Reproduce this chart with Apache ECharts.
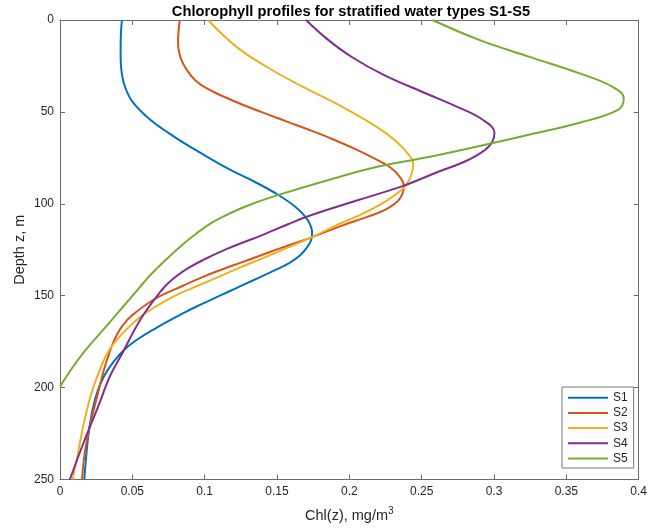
<!DOCTYPE html>
<html>
<head>
<meta charset="UTF-8">
<title>Chlorophyll profiles</title>
<style>
    html, body { margin: 0; padding: 0; background: #fff; }
    #container { width: 650px; height: 528px; }
</style>
</head>
<body>
<div id="container"></div>
<script src="https://cdn.jsdelivr.net/npm/echarts@6/dist/echarts.min.js"></script>
<script>
    // water types and their colours
    var names = ['S1', 'S2', 'S3', 'S4', 'S5'];
    var colors = ['#0072BD', '#D95319', '#EDB120', '#7E2F8E', '#77AC30'];

    // axis ranges / tick steps
    var chlRange = [0, 0.4], chlStep = 0.05;
    var depthRange = [0, 250], depthStep = 50;

    // [Chl mg/m3, depth m]
    var s1 = [[0.0428,0],[0.0420,10],[0.0419,20],[0.0427,29],[0.0452,37],[0.0506,45],[0.062,54],[0.078,63],
        [0.0965,72],[0.1165,81],[0.1345,88],[0.1505,95],[0.1632,102],[0.1713,109],[0.1743,116],[0.1735,120],
        [0.1705,124],[0.166,128],[0.159,132],[0.149,136],[0.138,140],[0.127,144],[0.116,148],[0.105,152],
        [0.094,156],[0.084,160],[0.0745,164],[0.0655,168],[0.055,173],[0.045,179],[0.037,186],[0.031,193],
        [0.0264,201],[0.0225,212],[0.0196,226],[0.0178,240],[0.0168,250]];
    var s2 = [[0.0828,0],[0.0816,12],[0.0839,21.7],[0.091,30.7],[0.097,35],[0.1085,40],[0.123,45],[0.139,50],
        [0.156,55],[0.173,60],[0.189,65],[0.2035,70],[0.2165,75],[0.228,80],[0.2345,85],[0.2377,90.4],
        [0.2345,97.6],[0.2253,103],[0.2138,106.7],[0.1945,112],[0.1735,118.4],[0.153,124],[0.139,128],
        [0.125,132],[0.111,136],[0.098,140],[0.085,144.6],[0.0655,151.8],[0.0495,160.9],[0.0435,166],
        [0.0395,171],[0.036,177],[0.0335,182.6],[0.0299,191.6],[0.0253,206],[0.0207,220.6],[0.0172,235],
        [0.0152,250]];
    var s3 = [[0.1023,0],[0.1218,14.5],[0.1425,25.3],[0.167,36],[0.1945,47],[0.2187,58],[0.2323,66],
        [0.2418,74],[0.2442,78.5],[0.2425,85],[0.2385,90.5],[0.2305,95.8],[0.220,101],[0.2075,106],
        [0.193,111],[0.1735,118.4],[0.157,124],[0.139,130],[0.122,135.5],[0.106,141],[0.091,146],[0.077,151],
        [0.066,156],[0.0565,161],[0.049,166],[0.0415,172],[0.0345,179],[0.0295,186.5],[0.022,202.4],
        [0.016,221],[0.0126,235],[0.0088,250]];
    var s4 = [[0.1701,0],[0.1841,10],[0.2014,20],[0.2241,30],[0.2531,40],[0.2738,47],[0.2917,54],
        [0.3003,61.4],[0.2966,68.7],[0.2828,75.9],[0.2598,83.1],[0.2368,90.4],[0.215,95.8],[0.193,101.2],
        [0.170,107.2],[0.158,111],[0.141,116.6],[0.115,124.7],[0.1005,130],[0.0885,135],[0.0795,140],
        [0.0725,145],[0.0655,151.8],[0.058,160],[0.0505,170],[0.044,180],[0.035,193],[0.0258,211.5],
        [0.0165,229.6],[0.0068,250]];
    var s5 = [[0.2575,0],[0.2897,10.8],[0.324,19.9],[0.3586,28.9],[0.3816,36.2],[0.3897,42.5],[0.386,48.8],
        [0.3586,56],[0.324,62.4],[0.293,68],[0.252,75],[0.2207,79.6],[0.188,86.5],[0.1517,95],[0.133,100],
        [0.118,105],[0.1055,110],[0.0945,116],[0.085,122],[0.0765,128],[0.0685,134],[0.061,140],[0.0545,146],
        [0.048,152],[0.0392,160],[0.0283,170],[0.0172,180],[0.0078,190],[0,199.5]];
    var profiles = [s1, s2, s3, s4, s5];

    var axisColor = '#6b6b6b';
    var font = 'Liberation Sans, Arial, Helvetica, sans-serif';

    function valueAxis(pos, range, step, showLabel) {
        return {
            type: 'value',
            position: pos,
            min: range[0],
            max: range[1],
            interval: step,
            axisLine: { show: true, onZero: false, lineStyle: { color: axisColor, width: 1 } },
            axisTick: { show: true, inside: true, length: 5, lineStyle: { color: axisColor } },
            axisLabel: { show: showLabel, color: '#262626', fontSize: 12, fontFamily: font, margin: 6 },
            splitLine: { show: false }
        };
    }

    var xBottom = valueAxis('bottom', chlRange, chlStep, true);
    xBottom.name = 'Chl(z), mg/m{sup|3}';
    xBottom.nameLocation = 'middle';
    xBottom.nameGap = 27;
    xBottom.nameTextStyle = {
        color: '#262626', fontSize: 14.5, fontFamily: font,
        rich: { sup: { fontSize: 10, verticalAlign: 'top', padding: [0, 0, 8, 0], color: '#262626', fontFamily: font } }
    };
    var xTop = valueAxis('top', chlRange, chlStep, false);

    var yLeft = valueAxis('left', depthRange, depthStep, true);
    yLeft.inverse = true;
    yLeft.name = 'Depth z, m';
    yLeft.nameLocation = 'middle';
    yLeft.nameGap = 33;
    yLeft.nameMoveOverlap = false;
    yLeft.nameTextStyle = { color: '#262626', fontSize: 14.5, fontFamily: font };
    var yRight = valueAxis('right', depthRange, depthStep, false);
    yRight.inverse = true;

    var series = names.map(function (n, i) {
        return {
            name: n,
            type: 'line',
            data: profiles[i],
            smooth: 0.4,
            symbol: 'none',
            lineStyle: { color: colors[i], width: 2 },
            itemStyle: { color: colors[i] },
            xAxisIndex: 0,
            yAxisIndex: 0
        };
    });

    var myChart = echarts.init(document.getElementById('container'));
    myChart.setOption({
        animation: false,
        textStyle: { fontFamily: font },
        title: {
            text: 'Chlorophyll profiles for stratified water types S1-S5',
            left: 351,
            top: 4,
            textAlign: 'center',
            padding: 0,
            textStyle: { fontSize: 14.7, fontWeight: 'bold', color: '#000', fontFamily: font }
        },
        grid: { left: 60, right: 10, top: 20, bottom: 47, containLabel: false },
        legend: {
            data: names,
            orient: 'vertical',
            left: 562,
            top: 387,
            itemWidth: 40,
            itemHeight: 14,
            itemGap: 3.2,
            itemTextGap: 5,
            padding: [4.7, 6, 3.5, 5],
            borderColor: '#7a7a7a',
            borderWidth: 1,
            backgroundColor: '#fff',
            itemStyle: { opacity: 0 },
            lineStyle: { width: 2 },
            textStyle: { fontSize: 12, color: '#262626', fontFamily: font }
        },
        xAxis: [xBottom, xTop],
        yAxis: [yLeft, yRight],
        series: series
    });
</script>
</body>
</html>
